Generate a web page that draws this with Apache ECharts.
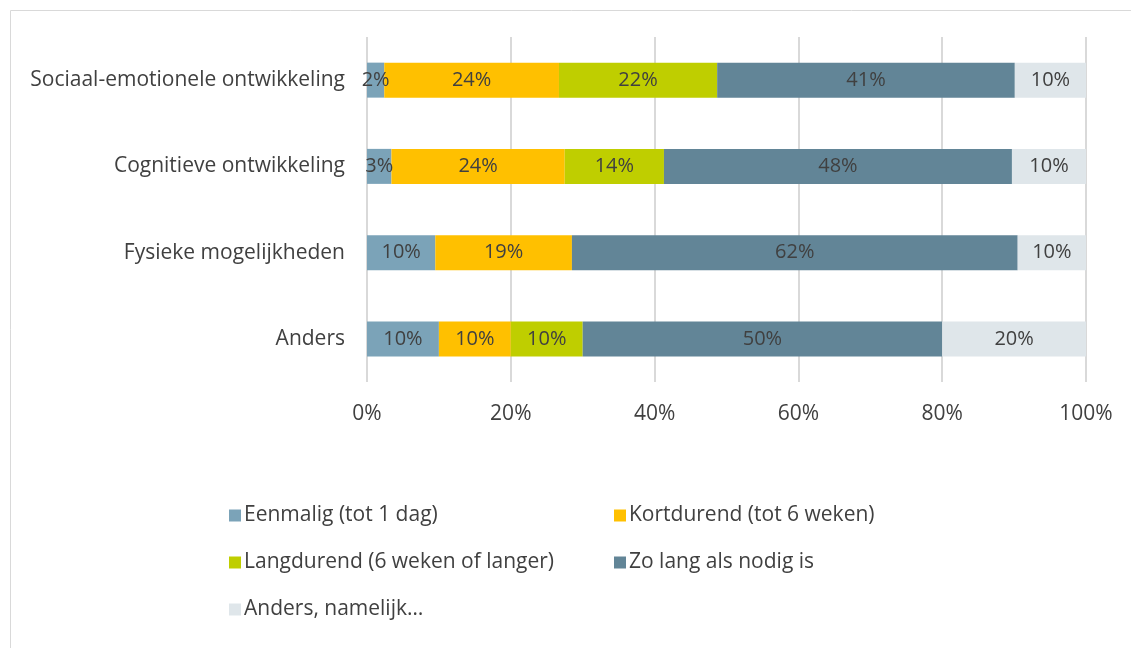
<!DOCTYPE html>
<html>
<head>
<meta charset="utf-8">
<script src="https://cdn.jsdelivr.net/npm/echarts@6/dist/echarts.min.js"></script>
<style>
  html, body { margin: 0; padding: 0; background: #fff; }
  #chart { width: 1131px; height: 648px; }
</style>
</head>
<body>
<div id="chart"></div>
<script>
// categorieen (van boven naar onder)
const categories = [
  "Sociaal-emotionele ontwikkeling",
  "Cognitieve ontwikkeling",
  "Fysieke mogelijkheden",
  "Anders"
];
const seriesNames = [
  "Eenmalig (tot 1 dag)",
  "Kortdurend (tot 6 weken)",
  "Langdurend (6 weken of langer)",
  "Zo lang als nodig is",
  "Anders, namelijk…"
];
// percentages per categorie
const eenmalig = [2.4, 3.4, 9.5, 10];
const kortdurend = [24.3, 24.1, 19.0, 10];
const langdurend = [22.0, 13.8, 0, 10];
const zoLang = [41.4, 48.4, 62.0, 50];
const anders = [9.9, 10.3, 9.5, 20];
const xTicks = [0, 20, 40, 60, 80, 100];

const colors = ["#7BA3B8", "#FFC000", "#BFCE00", "#628597", "#DFE6EA"];
const values = [eenmalig, kortdurend, langdurend, zoLang, anders];
const font = "'Open Sans', sans-serif";

const chart = echarts.init(document.getElementById("chart"));

const series = seriesNames.map((name, i) => ({
  name: name,
  type: "bar",
  stack: "totaal",
  barWidth: 35,
  data: values[i],
  itemStyle: { color: colors[i] },
  label: {
    show: true,
    position: "inside",
    color: "#404040",
    fontSize: 20,
    fontFamily: font,
    formatter: p => (p.value > 0 ? Math.round(p.value) + "%" : "")
  }
}));

// legenda: twee kolommen, drie rijen
const legendPos = [
  { left: 224, top: 500 },
  { left: 609, top: 500 },
  { left: 224, top: 547 },
  { left: 609, top: 547 },
  { left: 224, top: 594 }
];
const legends = seriesNames.map((name, i) => ({
  data: [name],
  left: legendPos[i].left,
  top: legendPos[i].top,
  icon: "rect",
  itemWidth: 12,
  itemHeight: 12,
  itemGap: 4,
  textStyle: { color: "#404040", fontSize: 21, fontFamily: font, padding: [0, 0, 0, -2] },
  selectedMode: false
}));

chart.setOption({
  animation: false,
  graphic: [{
    type: "rect",
    shape: { x: 10.5, y: 10.5, width: 1200, height: 800 },
    style: { fill: "none", stroke: "#D9D9D9", lineWidth: 1 },
    silent: true
  }],
  grid: { left: 367, right: 45, top: 37, bottom: 266 },
  legend: legends,
  xAxis: {
    type: "value",
    min: 0,
    max: 100,
    interval: 20,
    axisLine: { show: false },
    axisTick: { show: false },
    splitLine: { lineStyle: { color: "#D9D9D9", width: 2 } },
    axisLabel: {
      color: "#404040",
      fontSize: 21,
      fontFamily: font,
      margin: 22,
      formatter: v => (xTicks.includes(v) ? v + "%" : "")
    }
  },
  yAxis: {
    type: "category",
    inverse: true,
    data: categories,
    axisLine: { show: false },
    axisTick: { show: false },
    axisLabel: { color: "#404040", fontSize: 21, fontFamily: font, margin: 22 }
  },
  series: series
});
</script>
</body>
</html>
